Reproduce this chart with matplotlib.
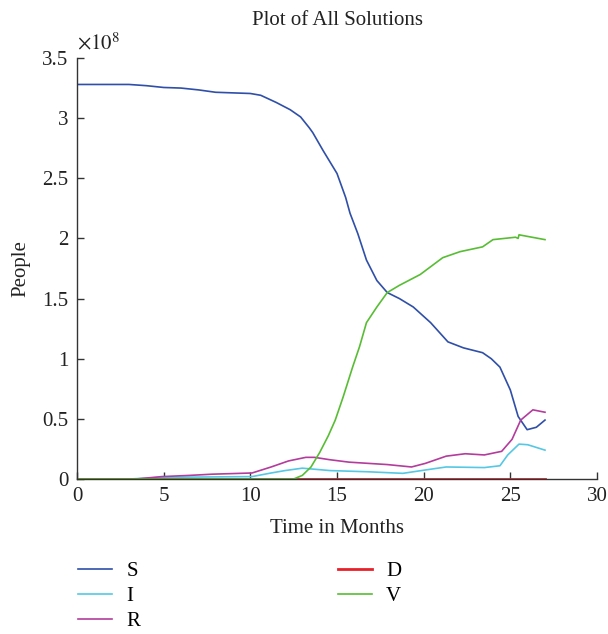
import matplotlib
matplotlib.use("Agg")
import matplotlib.pyplot as plt

plt.rcParams['font.family'] = ['Liberation Serif', 'DejaVu Serif']
plt.rcParams['mathtext.fontset'] = 'stix'

# values in units of 1e8 people
t_s = [0, 3, 4, 5, 6, 7, 8, 10, 10.6, 11.5, 12.3, 12.9, 13.4, 13.6, 14.2, 15.0, 15.5,
       15.75, 16.2, 16.7, 17.3, 17.9, 18.6, 19.4, 20.4, 21.4, 22.3, 23.4, 23.9, 24.4,
       25.0, 25.45, 25.97, 26.5, 27.0]
s_val = [3.28, 3.28, 3.27, 3.255, 3.25, 3.235, 3.215, 3.205, 3.19, 3.13, 3.07, 3.01,
         2.92, 2.88, 2.73, 2.54, 2.34, 2.21, 2.04, 1.82, 1.65, 1.55, 1.50, 1.43, 1.30,
         1.14, 1.09, 1.05, 1.00, 0.93, 0.74, 0.52, 0.41, 0.43, 0.49]

t_i = [0, 3, 5, 10.1, 11.2, 12.0, 13.0, 14.6, 16.8, 18.8, 20.1, 21.3, 23.5, 24.4,
       24.85, 25.5, 26.0, 27.0]
i_val = [0, 0, 0.014, 0.02, 0.05, 0.07, 0.09, 0.07, 0.06, 0.047, 0.075, 0.10, 0.095,
         0.11, 0.20, 0.29, 0.285, 0.24]

t_r = [0, 3.4, 4.9, 6.5, 7.8, 10.1, 11.2, 12.2, 13.2, 13.7, 14.6, 15.7, 17.9, 19.3,
       20.1, 21.3, 22.4, 23.5, 24.5, 25.1, 25.6, 26.3, 27.0]
r_val = [0, 0, 0.02, 0.03, 0.04, 0.05, 0.10, 0.15, 0.18, 0.18, 0.16, 0.14, 0.12, 0.10,
         0.13, 0.19, 0.21, 0.20, 0.23, 0.33, 0.49, 0.575, 0.555]

t_d = [0, 27.0]
d_val = [0, 0]

t_v = [0, 12.5, 13.0, 13.5, 14.0, 14.5, 14.9, 15.35, 15.9, 16.3, 16.7, 17.3, 17.9, 18.6,
       19.8, 21.1, 22.1, 23.4, 24.0, 25.3, 25.45, 25.5, 27.0]
v_val = [0, 0, 0.03, 0.10, 0.22, 0.36, 0.49, 0.68, 0.93, 1.10, 1.30, 1.43, 1.55, 1.61,
         1.70, 1.84, 1.89, 1.93, 1.99, 2.01, 2.00, 2.03, 1.99]

fig = plt.figure(figsize=(6.08, 6.34), dpi=100)
ax = fig.add_axes([77 / 608, 1 - 479 / 634, 520 / 608, 421 / 634])

ax.plot(t_s, s_val, color='#2f4fa8', lw=1.2, label='S')
ax.plot(t_i, i_val, color='#55c8e4', lw=1.2, label='I')
ax.plot(t_r, r_val, color='#b33c9c', lw=1.2, label='R')
ax.plot(t_d, d_val, color='#e8202a', lw=2.0, label='D')
ax.plot(t_v, v_val, color='#58bd34', lw=1.2, label='V')

ax.set_xlim(0, 30)
ax.set_ylim(0, 3.5)
ax.set_xticks([0, 5, 10, 15, 20, 25, 30])
ax.set_yticks([0, 0.5, 1, 1.5, 2, 2.5, 3, 3.5])
ax.set_yticklabels(['0', '0.5', '1', '1.5', '2', '2.5', '3', '3.5'])
ax.spines['top'].set_visible(False)
ax.spines['right'].set_visible(False)
for sp in ['left', 'bottom']:
    ax.spines[sp].set_color('#333333')
    ax.spines[sp].set_linewidth(1.0)
ax.tick_params(direction='in', length=5, width=1, colors='#333333',
               labelsize=15, labelcolor='#222222', pad=6)

ax.set_title('Plot of All Solutions', fontsize=15, color='#222222', pad=24)
ax.set_xlabel('Time in Months', fontsize=15, color='#222222', labelpad=9)
ax.set_ylabel('People', fontsize=15, color='#222222', labelpad=9)
ax.text(0.0, 1.008, r'$\times10^{8}$', transform=ax.transAxes, fontsize=15,
        color='#222222', ha='left', va='bottom')

fig.legend(loc='upper left', bbox_to_anchor=(70 / 608, 1 - 553 / 634), ncol=2,
           frameon=False, fontsize=15, handlelength=1.63, handletextpad=0.67,
           columnspacing=9.5, labelspacing=0.27, borderaxespad=0)

plt.savefig('out.png', dpi=100)
plt.close()
